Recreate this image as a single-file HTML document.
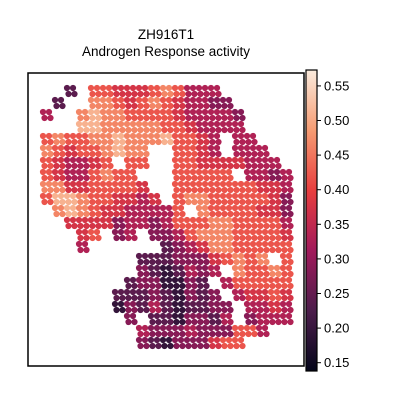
<!DOCTYPE html>
<html><head><meta charset="utf-8"><style>
body{margin:0;background:#fff;}
svg text{font-family:"Liberation Sans",sans-serif;fill:#000;}
</style></head><body>
<svg id="chart" width="400" height="400">
<defs>
<linearGradient id="rocket" x1="0" y1="1" x2="0" y2="0">
<stop offset="0" stop-color="#03051a"/><stop offset="0.2" stop-color="#4c1d4b"/>
<stop offset="0.4" stop-color="#a11a5b"/><stop offset="0.6" stop-color="#e83f3f"/>
<stop offset="0.8" stop-color="#f69c73"/><stop offset="1" stop-color="#faebdd"/>
</linearGradient></defs>
<text x="166" y="39" font-size="13.5" text-anchor="middle">ZH916T1</text>
<text x="166" y="56" font-size="13.5" text-anchor="middle">Androgen Response activity</text>
<g id="spots"></g>
<rect x="28" y="73" width="276" height="293" fill="none" stroke="#000" stroke-width="1.5"/>
<rect x="306" y="70" width="11" height="301" fill="url(#rocket)" stroke="#000" stroke-width="1.2"/>
<g id="cbticks"></g>
</svg>
<script>
const rows = [
".......................",
"...2.66555676444.......",
"..2..776567654433......",
".4..78776666544443.....",
"....88777776654444.....",
".676677877786654.44....",
".765667877..6654.444...",
".654456.66..665555444..",
".65446766...66666.4434.",
".775566665..6666666554.",
".6887665545.6776666653.",
"..78765544446.76666553.",
"...5555344346667766664.",
"....56.34.334677766665.",
"....4......23457766666.",
".........22233356767.6.",
".........3212434.76676.",
"........2331132.466666.",
".......222321323.45565.",
".......1324212233.4454.",
"........3.2213324.3444.",
".........43334333664...",
".........321333566.....",
"......................."
];
const tickValues = [0.15,0.20,0.25,0.30,0.35,0.40,0.45,0.50,0.55];
const vmin = 0.138, vmax = 0.573;
const stops=[[0,[3,5,26]],[0.2,[76,29,75]],[0.4,[161,26,91]],[0.6,[232,63,63]],[0.8,[246,156,115]],[1,[250,235,221]]];
function cmap(v){let t=Math.max(0,Math.min(1,(v-vmin)/(vmax-vmin)));
 for(let i=1;i<stops.length;i++){if(t<=stops[i][0]){const a=stops[i-1],b=stops[i],f=(t-a[0])/(b[0]-a[0]);
 return 'rgb('+a[1].map((c,k)=>Math.round(c+(b[1][k]-c)*f)).join(',')+')';}}return 'rgb(250,235,221)';}
function levelVal(ch){return 0.15+(+ch)*0.045;}
const ns="http://www.w3.org/2000/svg";
const spots=document.getElementById('spots');
rows.forEach((row,r)=>{for(let c=0;c<row.length;c++){const ch=row[c];if(ch==='.')continue;
 const v=levelVal(ch);
 for(let sy=0;sy<2;sy++)for(let sx=0;sx<2;sx++){
  const el=document.createElementNS(ns,'circle');
  el.setAttribute('cx',28+12*c+3+6*sx+(sy?1.5:0));
  el.setAttribute('cy',73+12*r+3+6*sy);
  el.setAttribute('r',3.1);
  el.setAttribute('fill',cmap(v));
  
  
  spots.appendChild(el);}
}});
const cy=v=>371-(v-vmin)/(vmax-vmin)*301;
const tg=document.getElementById('cbticks');
tickValues.forEach(v=>{const y=cy(v);
 const l=document.createElementNS(ns,'line');
 l.setAttribute('x1',317);l.setAttribute('x2',321);l.setAttribute('y1',y);l.setAttribute('y2',y);l.setAttribute('stroke','#000');
 
 
 tg.appendChild(l);
 const t=document.createElementNS(ns,'text');
 t.setAttribute('x',324);t.setAttribute('y',y+4.5);t.setAttribute('font-size','13');t.textContent=v.toFixed(2);
 
 
 tg.appendChild(t);});
</script>
</body></html>
